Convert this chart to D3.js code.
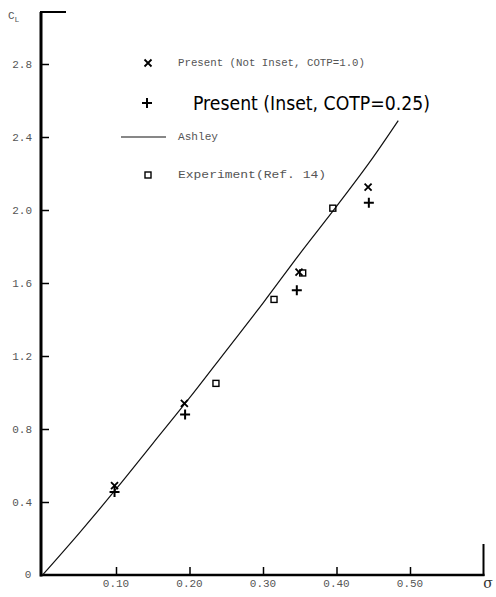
<!DOCTYPE html>
<html>
<head>
<meta charset="utf-8">
<script src="https://cdn.jsdelivr.net/npm/d3@7"></script>
<style>
  html, body { margin: 0; padding: 0; background: #fff; }
  svg { display: block; }
</style>
</head>
<body>
<svg id="chart" width="496" height="597"></svg>
<script>
// ---- data ----
const xTicks = [0.10, 0.20, 0.30, 0.40, 0.50];
const xTickLabels = ["0.10", "0.20", "0.30", "0.40", "0.50"];
const yTicks = [0.4, 0.8, 1.2, 1.6, 2.0, 2.4, 2.8];
const yTickLabels = ["0.4", "0.8", "1.2", "1.6", "2.0", "2.4", "2.8"];

// Ashley theory curve
const ashleySigma = [0, 0.05, 0.10, 0.15, 0.20, 0.25, 0.30, 0.35, 0.40, 0.45, 0.484];
const ashleyCL    = [0, 0.23, 0.47, 0.72, 0.97, 1.23, 1.49, 1.76, 2.02, 2.29, 2.49];

// Present (Not Inset, COTP=1.0)
const notInsetSigma = [0.098, 0.193, 0.349, 0.443];
const notInsetCL    = [0.49, 0.94, 1.66, 2.125];

// Present (Inset, COTP=0.25)
const insetSigma = [0.098, 0.194, 0.346, 0.444];
const insetCL    = [0.455, 0.88, 1.56, 2.04];

// Experiment (Ref. 14)
const expSigma = [0.236, 0.315, 0.354, 0.395];
const expCL    = [1.05, 1.51, 1.655, 2.01];

const legendLabels = [
  "Present (Not Inset, COTP=1.0)",
  "Present (Inset, COTP=0.25)",
  "Ashley",
  "Experiment(Ref. 14)"
];

// ---- drawing ----
const svg = d3.select("#chart");
const x = d3.scaleLinear().domain([0, 0.6]).range([42.5, 483.5]);
const y = d3.scaleLinear().domain([0, 2.8]).range([575, 64]);
const mono = "'Liberation Mono', 'DejaVu Sans Mono', monospace";
const grey = "#555";

// frame
svg.append("line").attr("x1", 41).attr("x2", 41).attr("y1", y(3.085)).attr("y2", y(0) + 1.5)
  .attr("stroke", "#000").attr("stroke-width", 3);
svg.append("line").attr("x1", 40).attr("x2", x(0.6) + 1).attr("y1", y(0)).attr("y2", y(0))
  .attr("stroke", "#000").attr("stroke-width", 2.5);
svg.append("line").attr("x1", 40).attr("x2", 66).attr("y1", y(3.085)).attr("y2", y(3.085))
  .attr("stroke", "#000").attr("stroke-width", 2);
svg.append("line").attr("x1", x(0.6)).attr("x2", x(0.6)).attr("y1", y(0.17)).attr("y2", y(0) + 1)
  .attr("stroke", "#000").attr("stroke-width", 2);

// y axis ticks (inward)
const yAxis = d3.axisRight(y).tickValues(yTicks).tickSize(8).tickFormat("");
const gy = svg.append("g").attr("transform", "translate(41,0)").call(yAxis);
gy.select(".domain").remove();
gy.selectAll(".tick line").attr("stroke", "#000").attr("stroke-width", 1.5);
svg.append("g").selectAll("text").data(yTicks).join("text")
  .attr("x", 32).attr("y", d => y(d) + 4)
  .attr("text-anchor", "end")
  .attr("font-family", mono).attr("font-size", 11).attr("fill", grey)
  .text((d, i) => yTickLabels[i]);
svg.append("text").attr("x", 28).attr("y", 578).attr("text-anchor", "middle")
  .attr("font-family", mono).attr("font-size", 11).attr("fill", grey).text("0");

// x axis ticks (upward)
const xAxis = d3.axisTop(x).tickValues(xTicks).tickSize(8).tickFormat("");
const gx = svg.append("g").attr("transform", `translate(0,${y(0)})`).call(xAxis);
gx.select(".domain").remove();
gx.selectAll(".tick line").attr("stroke", "#000").attr("stroke-width", 1.5);
svg.append("g").selectAll("text").data(xTicks).join("text")
  .attr("x", d => x(d)).attr("y", 587)
  .attr("text-anchor", "middle")
  .attr("font-family", mono).attr("font-size", 11).attr("fill", grey)
  .text((d, i) => xTickLabels[i]);

// axis titles
const cl = svg.append("text").attr("x", 8).attr("y", 19)
  .attr("font-family", mono).attr("font-size", 11).attr("fill", grey);
cl.append("tspan").text("C");
cl.append("tspan").attr("font-size", 8).attr("dy", 3).text("L");
svg.append("text").attr("x", 488).attr("y", 588).attr("text-anchor", "middle")
  .attr("font-family", "'DejaVu Serif', serif").attr("font-size", 14).attr("fill", "#333")
  .text("σ");

// Ashley curve
const ashley = ashleySigma.map((s, i) => [s, ashleyCL[i]]);
svg.append("path").datum(ashley)
  .attr("d", d3.line().x(d => x(d[0])).y(d => y(d[1])).curve(d3.curveMonotoneX))
  .attr("fill", "none").attr("stroke", "#111").attr("stroke-width", 1.2);

// markers
function drawX(g, cx, cy, r, w) {
  g.append("path")
    .attr("d", `M${cx - r},${cy - r}L${cx + r},${cy + r}M${cx - r},${cy + r}L${cx + r},${cy - r}`)
    .attr("stroke", "#000").attr("stroke-width", w).attr("fill", "none");
}
function drawPlus(g, cx, cy, r, w) {
  g.append("path")
    .attr("d", `M${cx - r},${cy}L${cx + r},${cy}M${cx},${cy - r}L${cx},${cy + r}`)
    .attr("stroke", "#000").attr("stroke-width", w).attr("fill", "none");
}
function drawSq(g, cx, cy, r, w) {
  g.append("rect").attr("x", cx - r).attr("y", cy - r).attr("width", 2 * r).attr("height", 2 * r)
    .attr("stroke", "#000").attr("stroke-width", w).attr("fill", "none");
}
const gm = svg.append("g");
notInsetSigma.forEach((s, i) => drawX(gm, x(s), y(notInsetCL[i]), 3.5, 1.8));
insetSigma.forEach((s, i) => drawPlus(gm, x(s), y(insetCL[i]), 5, 2));
expSigma.forEach((s, i) => drawSq(gm, x(s), y(expCL[i]), 3, 1.4));

// legend
const lg = svg.append("g");
drawX(lg, 148, 63, 3.5, 1.8);
lg.append("text").attr("x", 178).attr("y", 66)
  .attr("font-family", mono).attr("font-size", 11).attr("fill", grey)
  .attr("textLength", 187).attr("lengthAdjust", "spacingAndGlyphs").text(legendLabels[0]);
drawPlus(lg, 147, 103, 5, 2);
lg.append("text").attr("x", 193).attr("y", 110)
  .attr("font-family", "'DejaVu Sans', sans-serif").attr("font-size", 19).attr("fill", "#000")
  .attr("textLength", 237).attr("lengthAdjust", "spacingAndGlyphs").text(legendLabels[1]);
lg.append("line").attr("x1", 121).attr("x2", 166).attr("y1", 137).attr("y2", 137)
  .attr("stroke", "#111").attr("stroke-width", 1.2);
lg.append("text").attr("x", 178).attr("y", 140)
  .attr("font-family", mono).attr("font-size", 11).attr("fill", grey)
  .attr("textLength", 40).attr("lengthAdjust", "spacingAndGlyphs").text(legendLabels[2]);
drawSq(lg, 148, 175, 3, 1.4);
lg.append("text").attr("x", 178).attr("y", 178)
  .attr("font-family", mono).attr("font-size", 11).attr("fill", grey)
  .attr("textLength", 148).attr("lengthAdjust", "spacingAndGlyphs").text(legendLabels[3]);
</script>
</body>
</html>
